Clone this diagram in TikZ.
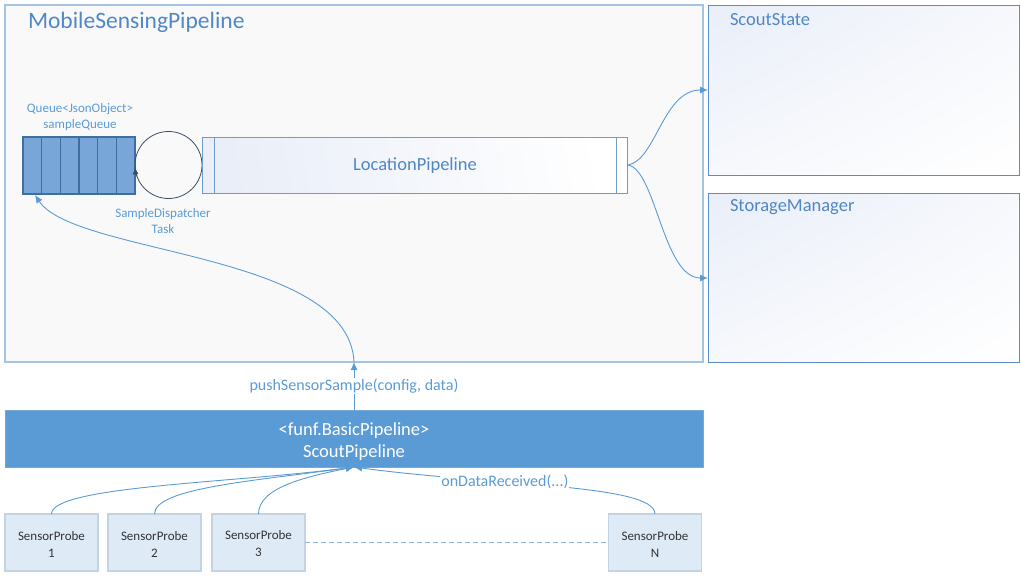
\documentclass[tikz,border=0pt]{standalone}
\usepackage{fontspec}
\setmainfont{Carlito}
\usetikzlibrary{calc,arrows.meta,shadings}
\definecolor{outerborder}{HTML}{A5C3E3}
\definecolor{outerfill}{HTML}{F9F9F9}
\definecolor{boxborder}{HTML}{5B8EC4}
\definecolor{titleblue}{HTML}{4F87C7}
\definecolor{labelblue}{HTML}{5B9BD5}
\definecolor{connblue}{HTML}{5B9BD5}
\definecolor{queuefill}{HTML}{79A6D8}
\definecolor{queueborder}{HTML}{3F6F9F}
\definecolor{circcol}{HTML}{3B4D63}
\definecolor{lpborder}{HTML}{6E9BCA}
\definecolor{scoutfill}{HTML}{5B9BD5}
\definecolor{probefill}{HTML}{DEEAF6}
\definecolor{probeborder}{HTML}{C3D3E4}
\definecolor{gradA}{HTML}{E9EEF8}
\definecolor{gradB}{HTML}{F6F8FC}
\definecolor{probetext}{HTML}{333333}
\tikzset{
  every node/.style={inner sep=0pt, outer sep=0pt},
  outerbox/.style={draw=outerborder, line width=1.8pt, fill=outerfill},
  compbox/.style={draw=boxborder, line width=0.8pt, upper left=gradA, upper right=gradB, lower left=gradB, lower right=white},
  titletext/.style={text=titleblue, font=\fontsize{18.5}{20}\selectfont, anchor=west},
  smalltext/.style={text=labelblue, font=\fontsize{13}{16}\selectfont, align=center},
  conn/.style={draw=connblue, line width=0.9pt, -{Latex[length=8pt,width=7pt]}},
  probebox/.style={draw=probeborder, line width=1.3pt, fill=probefill, minimum width=93pt, minimum height=57pt},
  probetextstyle/.style={text=probetext, font=\fontsize{13}{17}\selectfont, align=center},
  conlabel/.style={fill=white, text=labelblue, font=\fontsize{16}{18}\selectfont, inner sep=1pt}
}
\begin{document}
\begin{tikzpicture}[x=1pt,y=-1pt]
\useasboundingbox (0,0) rectangle (1021,579);
\fill[white] (0,0) rectangle (1021,579);
% outer container
\node[outerbox, minimum width=698pt, minimum height=357pt] (msp) at (354,183.5) {};
\node[titletext, font=\fontsize{23.5}{26}\selectfont] (msptitle) at (28,22.5) {MobileSensingPipeline};
% right components
\node[compbox, minimum width=311pt, minimum height=170pt] (state) at (863.5,90) {};
\node[titletext] (statetitle) at (730,19.5) {ScoutState};
\node[compbox, minimum width=311pt, minimum height=169pt] (storage) at (863.5,277.5) {};
\node[titletext] (storagetitle) at (730,207.5) {StorageManager};
% queue
\node[draw=queueborder, line width=1.3pt, fill=queuefill, minimum width=112pt, minimum height=57pt] (queue) at (79,165.5) {};
\foreach \k in {1,...,5}{
  \draw[queueborder, line width=1.3pt] ($(queue.north west)!\k/6!(queue.north east)$) -- ($(queue.south west)!\k/6!(queue.south east)$);
}
\node[smalltext] (queuelabel) at (80,117) {Queue<JsonObject>\\sampleQueue};
% dispatcher circle
\node[draw=circcol, line width=0.8pt, circle, minimum size=67pt] (circ) at (168.5,165) {};
\draw[draw=circcol, line width=0.8pt, -{Latex[length=7pt,width=6pt]}] ($(circ.center)+(160:33.5)$) arc[start angle=160, end angle=176, radius=33.5];
\node[smalltext] (circlabel) at (163,221.5) {SampleDispatcher\\Task};
% location pipeline
\node[draw=lpborder, line width=1pt, minimum width=425pt, minimum height=56pt, left color=gradA, right color=white, shading angle=100] (lp) at (414.5,165) {};
\draw[lpborder, line width=1pt] ($(lp.north west)+(12,0)$) -- ($(lp.south west)+(12,0)$);
\draw[lpborder, line width=1pt] ($(lp.north east)+(-11,0)$) -- ($(lp.south east)+(-11,0)$);
\node[text=titleblue, font=\fontsize{18.5}{20}\selectfont] (lptext) at (415,166) {LocationPipeline};
% scout pipeline
\node[fill=scoutfill, draw=scoutfill!85!white, line width=1pt, minimum width=698pt, minimum height=57pt] (scout) at (354,438.5) {};
\node[text=white, font=\fontsize{18.5}{22}\selectfont, align=center] (scouttext) at (354,441.5) {<funf.BasicPipeline>\\ScoutPipeline};
% probes
\node[probebox] (p1) at (51.5,542.5) {};
\node[probebox] (p2) at (154.5,542.5) {};
\node[probebox] (p3) at (258.5,542.5) {};
\node[probebox] (pN) at (655,542.5) {};
\node[probetextstyle] (p1t) at (51.5,544) {SensorProbe\\1};
\node[probetextstyle] (p2t) at (154.5,544) {SensorProbe\\2};
\node[probetextstyle] (p3t) at (258.5,544) {SensorProbe\\3};
\node[probetextstyle] (pNt) at (655,544) {SensorProbe\\N};
\draw[draw=connblue!70!white, line width=1.3pt, dashed, dash pattern=on 5pt off 3pt] (p3.east) -- (pN.west);
% connectors
\coordinate (lpout) at ($(lp.east)+(1,0)$);
\coordinate (statein) at ($(state.west)+(0,0)$);
\coordinate (storagein) at ($(storage.west)+(0,0.5)$);
\draw[conn] (lpout) .. controls +(28,-5) and +(-45,0) .. (statein);
\draw[conn] (lpout) .. controls +(28,5) and +(-45,0) .. (storagein);
\coordinate (mspin) at (scout.north |- msp.south);
\draw[conn] (scout.north) -- (mspin) node[conlabel, pos=0.5] (pushlabel) {pushSensorSample(config, data)};
\coordinate (queuein) at ($(queue.south west)+(12,1)$);
\draw[conn] (mspin) .. controls +(-5,-110) and +(40,60) .. (queuein);
\draw[conn] (p1.north) .. controls +(0,-28) and +(-120,16) .. (scout.south);
\draw[conn] (p2.north) .. controls +(0,-26) and +(-100,14) .. (scout.south);
\draw[conn] (p3.north) .. controls +(0,-26) and +(-50,10) .. (scout.south);
\draw[conn] (pN.north) .. controls +(0,-30) and +(140,19) .. (scout.south) node[conlabel, pos=0.64] (odr) {onDataReceived(...)};
\end{tikzpicture}
\end{document}
